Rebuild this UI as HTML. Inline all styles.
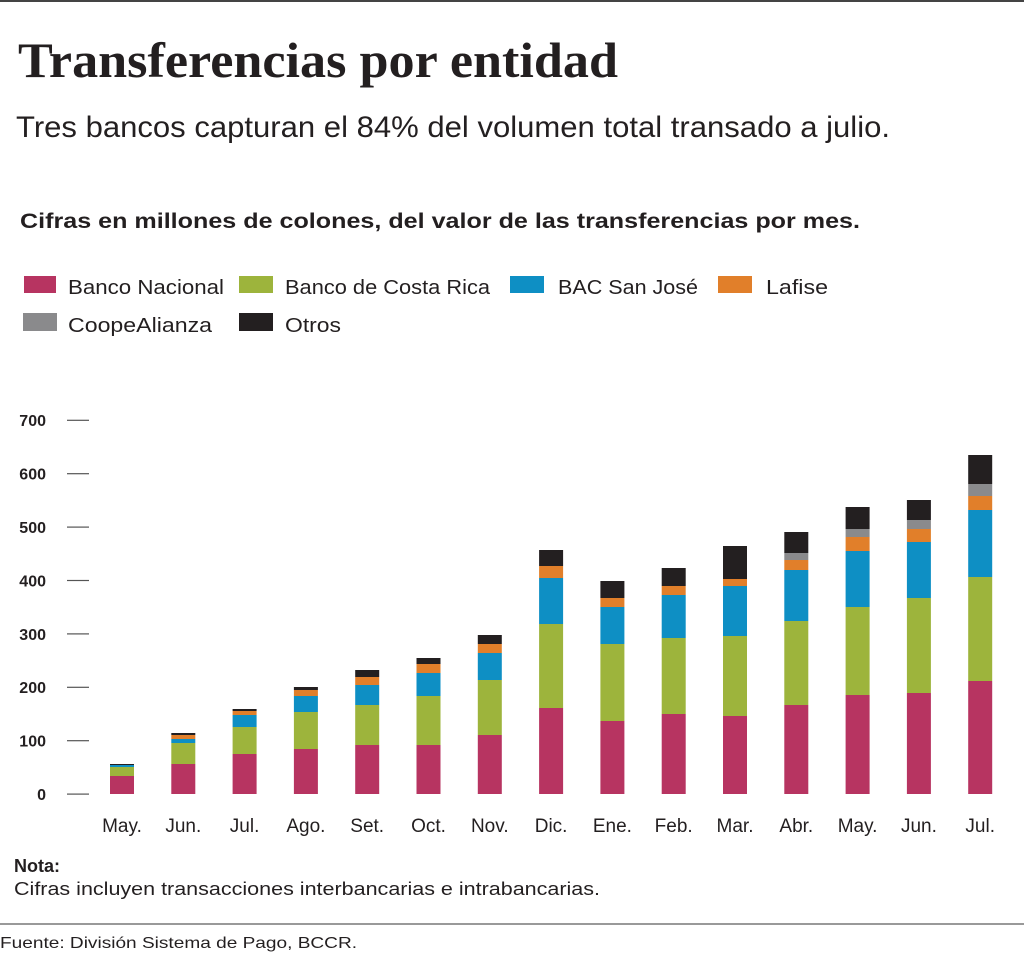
<!DOCTYPE html>
<html><head><meta charset="utf-8"><style>
html,body{margin:0;padding:0;background:#fff}
svg{display:block}
</style></head><body>
<svg id="s" width="1024" height="956" xmlns="http://www.w3.org/2000/svg" font-family="Liberation Sans, sans-serif">
<rect x="0" y="0" width="1024" height="2" fill="#444"/>
<text x="18" y="77" font-family="Liberation Serif, serif" font-weight="bold" font-size="50" fill="#231f20" textLength="600" lengthAdjust="spacingAndGlyphs">Transferencias por entidad</text>
<text x="16" y="137" font-size="30" fill="#231f20" textLength="874" lengthAdjust="spacingAndGlyphs">Tres bancos capturan el 84% del volumen total transado a julio.</text>
<text x="20" y="228" font-size="21" font-weight="bold" fill="#231f20" textLength="840" lengthAdjust="spacingAndGlyphs">Cifras en millones de colones, del valor de las transferencias por mes.</text>
<g font-size="20" fill="#231f20">
<rect x="24" y="276" width="32" height="17" fill="#b73461"/><text x="68" y="294" textLength="156" lengthAdjust="spacingAndGlyphs">Banco Nacional</text>
<rect x="239" y="276" width="34" height="17" fill="#9db43c"/><text x="285" y="294" textLength="205" lengthAdjust="spacingAndGlyphs">Banco de Costa Rica</text>
<rect x="510" y="276" width="34" height="17" fill="#0e8fc4"/><text x="558" y="294" textLength="140" lengthAdjust="spacingAndGlyphs">BAC San José</text>
<rect x="718" y="276" width="34" height="17" fill="#e17f2a"/><text x="766" y="294" textLength="62" lengthAdjust="spacingAndGlyphs">Lafise</text>
<rect x="23" y="313" width="34" height="18" fill="#8a8a8c"/><text x="68" y="332" textLength="144" lengthAdjust="spacingAndGlyphs">CoopeAlianza</text>
<rect x="239" y="313" width="34" height="18" fill="#231f20"/><text x="285" y="332" textLength="56" lengthAdjust="spacingAndGlyphs">Otros</text>
</g>
<g id="axis" font-size="16" font-weight="bold" fill="#231f20" text-anchor="end"></g>
<g id="bars"></g>
<g id="months" font-size="19" fill="#231f20" text-anchor="middle"></g>
<text x="14" y="872" font-size="18" font-weight="bold" fill="#231f20">Nota:</text>
<text x="14" y="895" font-size="18" fill="#231f20" textLength="586" lengthAdjust="spacingAndGlyphs">Cifras incluyen transacciones interbancarias e intrabancarias.</text>
<rect x="0" y="923" width="1024" height="2" fill="#999"/>
<text x="0" y="948" font-size="16" fill="#231f20" textLength="357" lengthAdjust="spacingAndGlyphs">Fuente: División Sistema de Pago, BCCR.</text>
</svg>
<script>
var NS="http://www.w3.org/2000/svg";
function el(t,a,p,txt){var e=document.createElementNS(NS,t);for(var k in a)e.setAttribute(k,a[k]);if(txt)e.textContent=txt;document.getElementById(p).appendChild(e);}
for(var v=0;v<=7;v++){var y=794-v*53.4;el('text',{x:46,y:y+6},'axis',String(v*100));el('rect',{x:67,y:y-0.5,width:22,height:1.2,fill:'#555'},'axis');}
var cols=['#b73461','#9db43c','#0e8fc4','#e17f2a','#8a8a8c','#231f20'];
// tops: pink, green, blue, orange, gray, black
var T=[
[776,767,765,765,765,764],
[764,743,739,735,735,733],
[754,727,715,711,711,709],
[749,712,696,690,690,687],
[745,705,685,677,677,670],
[745,696,673,664,664,658],
[735,680,653,644,644,635],
[708,624,578,566,566,550],
[721,644,607,598,598,581],
[714,638,595,586,586,568],
[716,636,586,579,579,546],
[705,621,570,560,553,532],
[695,607,551,537,529,507],
[693,598,542,529,520,500],
[681,577,510,496,484,455]];
var M=['May.','Jun.','Jul.','Ago.','Set.','Oct.','Nov.','Dic.','Ene.','Feb.','Mar.','Abr.','May.','Jun.','Jul.'];
for(var i=0;i<15;i++){var x=110+i*61.3;var prev=794;
for(var j=0;j<6;j++){var t=T[i][j];if(prev-t>0)el('rect',{x:x,y:t,width:24,height:prev-t,fill:cols[j]},'bars');prev=t;}
el('text',{x:x+12,y:832},'months',M[i]);}
</script>
</body></html>
